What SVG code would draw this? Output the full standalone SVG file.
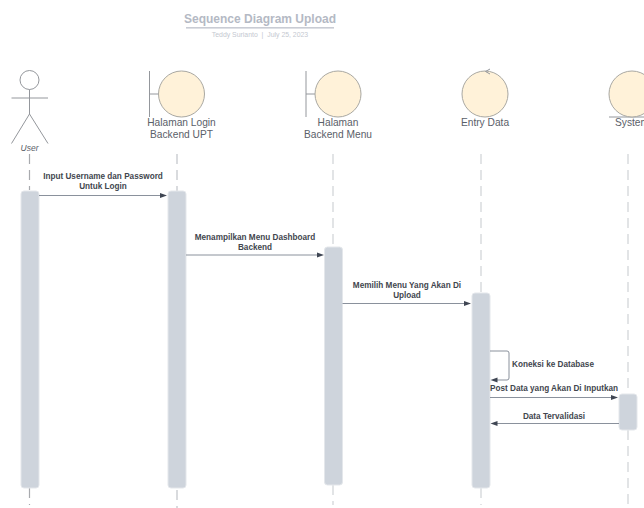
<svg xmlns="http://www.w3.org/2000/svg" width="644" height="508" viewBox="0 0 644 508">
<style>
text{font-family:"Liberation Sans",Arial,sans-serif;text-anchor:middle;white-space:pre}
.t{font-size:12px;font-weight:bold;fill:#b4b9c4}
.s{font-size:6.900px;fill:#c4c8d0}
.n{font-size:10.200px;fill:#5a6069}
.u{font-size:8.500px;font-style:italic;fill:#5a6069}
.m{font-size:8.200px;font-weight:bold;fill:#42464e}
.ll{stroke:#cfd2d6;stroke-width:1.200;stroke-dasharray:10 6;fill:none}
.st{stroke:#94979c;stroke-width:1;fill:none}
.c{fill:#fff2d9;stroke:#a9a8a2;stroke-width:1}
.a{fill:#ced4dc;stroke:#e4e7eb;stroke-width:1}
.w{stroke:#8a919c;stroke-width:1;fill:none}
.h{fill:#3f4653}
</style>
<g id="title">
<text class="t" x="260" y="23">Sequence Diagram Upload</text>
<rect x="186" y="27" width="148" height="1.600" fill="#c9ccd4"/>
<text class="s" x="260" y="37">Teddy Surianto  |  July 25, 2023</text>
</g>
<g id="lifelines">
<path class="ll" d="M29.500 154V190" style="stroke:#a8aaae"/>
<path class="ll" d="M29.500 488V505" style="stroke:#a8aaae"/>
<path class="ll" d="M177 154V191M177 490V508" style="stroke:#c0c3c8"/>
<path class="ll" d="M333 154V247M333 485V505"/>
<path class="ll" d="M481 154V293M481 488V505"/>
<path class="ll" d="M628 154V394M628 430V505"/>
</g>
<g id="node-user">
<circle cx="29.500" cy="80" r="9.500" fill="#fff" stroke="#94979c"/>
<path class="st" d="M29.500 89.500V114M11.500 98H48M29.500 114L11.500 143.500M29.500 114L48 143.500"/>
<text class="u" x="29.500" y="151">User</text>
</g>
<g id="node-login">
<path class="st" d="M149.500 71V117M149.500 94H159"/>
<circle class="c" cx="181.500" cy="94" r="23"/>
<text class="n" x="181.500" y="126">Halaman Login</text>
<text class="n" x="181.500" y="138">Backend UPT</text>
</g>
<g id="node-menu">
<path class="st" d="M306 71V117M306 94H315"/>
<circle class="c" cx="338" cy="94" r="23"/>
<text class="n" x="338" y="126">Halaman</text>
<text class="n" x="338" y="138">Backend Menu</text>
</g>
<g id="node-entry">
<circle class="c" cx="485" cy="94" r="23"/>
<path class="st" d="M490 69L485.500 71.500L490 74"/>
<text class="n" x="485" y="126">Entry Data</text>
</g>
<g id="node-system">
<path class="st" d="M609 117H644"/>
<circle class="c" cx="632" cy="94" r="23"/>
<text class="n" x="632" y="126">System</text>
</g>
<g id="activations">
<rect class="a" x="21" y="191" width="18" height="297" rx="3"/>
<rect class="a" x="168" y="191" width="18" height="297" rx="3"/>
<rect class="a" x="324.500" y="247" width="18" height="238" rx="3"/>
<rect class="a" x="472" y="293" width="18" height="195" rx="3"/>
<rect class="a" x="619" y="394" width="18" height="36" rx="3"/>
</g>
<g id="connectors">
<path class="w" d="M39 195.500H160"/><path class="h" d="M167 195.500L160 193V198Z"/>
<path class="w" d="M186 255H317"/><path class="h" d="M324 255L317 252.500V257.500Z"/>
<path class="w" d="M342.500 303.500H464"/><path class="h" d="M471 303.500L464 301V306Z"/>
<path class="w" d="M490 351H507Q509 351 509 353V378Q509 380 507 380H497"/><path class="h" d="M490.500 380L497.500 377.500V382.500Z"/>
<path class="w" d="M490 397.500H611"/><path class="h" d="M618 397.500L611 395V400Z"/>
<path class="w" d="M619 423.500H497"/><path class="h" d="M490.500 423.500L497.500 421V426Z"/>
</g>
<g id="labels">
<text class="m" x="103" y="179">Input Username dan Password</text>
<text class="m" x="103" y="189">Untuk Login</text>
<text class="m" x="255" y="240">Menampilkan Menu Dashboard</text>
<text class="m" x="255" y="250">Backend</text>
<text class="m" x="407" y="288">Memilih Menu Yang Akan Di</text>
<text class="m" x="407" y="298">Upload</text>
<text class="m" x="553" y="367">Koneksi ke Database</text>
<text class="m" x="554" y="391">Post Data yang Akan Di Inputkan</text>
<text class="m" x="554" y="419">Data Tervalidasi</text>
</g>
</svg>
